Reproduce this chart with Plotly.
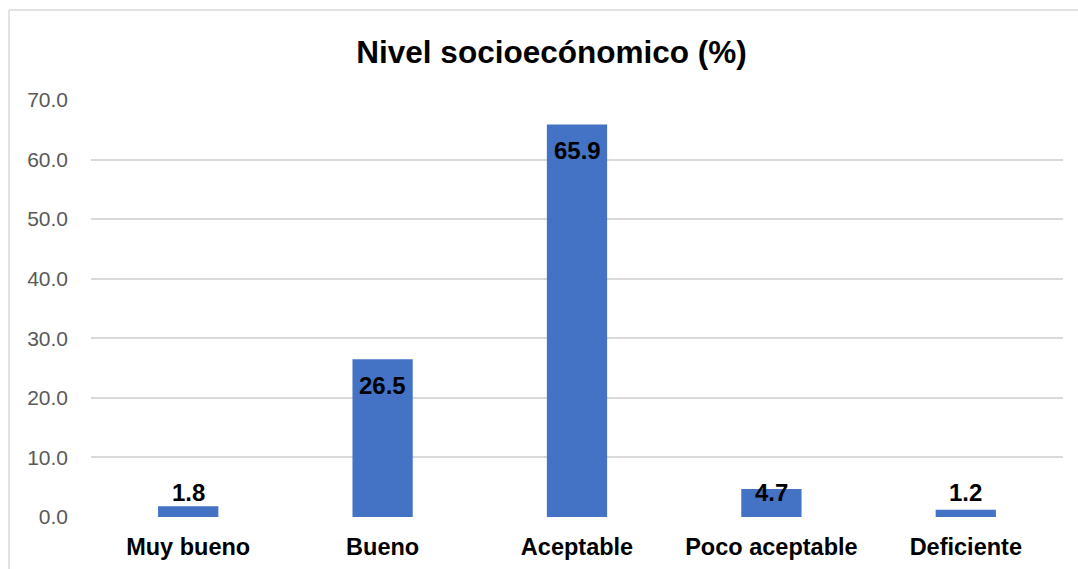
import plotly.graph_objects as go

categories = ["Muy bueno", "Bueno", "Aceptable", "Poco aceptable", "Deficiente"]
values = [1.8, 26.5, 65.9, 4.7, 1.2]
tick_vals = [0, 10, 20, 30, 40, 50, 60, 70]
tick_text = ["0.0", "10.0", "20.0", "30.0", "40.0", "50.0", "60.0", "70.0"]
title_text = "Nivel socioecónomico (%)"

W, H = 1078, 569
L, R, T, B = 91, 15, 100, 52
plot_w = W - L - R
plot_h = H - T - B
ymax = 70
px_per_unit = plot_h / ymax

fig = go.Figure()
fig.add_trace(go.Bar(
    x=categories, y=values,
    marker=dict(color="#4472C4", line=dict(width=0)),
    hoverinfo="x+y",
))

# Data labels (Excel "inside end", clamped above the axis)
inside_off = 26 / px_per_unit
floor_off = 25 / px_per_unit
for c, v in zip(categories, values):
    fig.add_annotation(
        x=c, y=max(v - inside_off, floor_off), text=f"<b>{v:.1f}</b>",
        showarrow=False, yanchor="middle", xanchor="center",
        font=dict(family="Liberation Sans, Arial, sans-serif", size=24, color="#000000"),
    )

# Outer chart border (left and top visible)
bx0 = (9 - L) / plot_w
by1 = (H - B - 10) / plot_h
fig.add_shape(type="line", xref="paper", yref="paper", x0=bx0, x1=bx0, y0=-0.5, y1=by1,
              line=dict(color="#D9D9D9", width=1.5))
fig.add_shape(type="line", xref="paper", yref="paper", x0=bx0, x1=1.2, y0=by1, y1=by1,
              line=dict(color="#D9D9D9", width=1.5))

fig.update_layout(
    width=W, height=H,
    margin=dict(l=L, r=R, t=T, b=B, pad=0, autoexpand=False),
    paper_bgcolor="white", plot_bgcolor="white",
    bargap=0.69,
    showlegend=False,
    title=dict(text=f"<b>{title_text}</b>", x=551.5 / W, xanchor="center",
               y=1 - 52 / H, yanchor="middle", xref="container", yref="container",
               font=dict(family="Liberation Sans, Arial, sans-serif", size=31.5, color="#000000")),
    xaxis=dict(
        showgrid=False, zeroline=False, showline=False, ticks="",
        tickfont=dict(family="Liberation Sans, Arial, sans-serif", size=23.5, color="#000000"),
        tickprefix="<b>", ticksuffix="</b>",
        ticklabelstandoff=13, automargin=False,
    ),
    yaxis=dict(
        range=[0, ymax], tickvals=tick_vals, ticktext=tick_text,
        showgrid=True, gridcolor="#D9D9D9", gridwidth=1.5,
        zeroline=False, showline=False, ticks="",
        tickfont=dict(family="Liberation Sans, Arial, sans-serif", size=21, color="#595959"),
        ticklabelstandoff=22, automargin=False,
    ),
)

fig.write_html("out.html")
